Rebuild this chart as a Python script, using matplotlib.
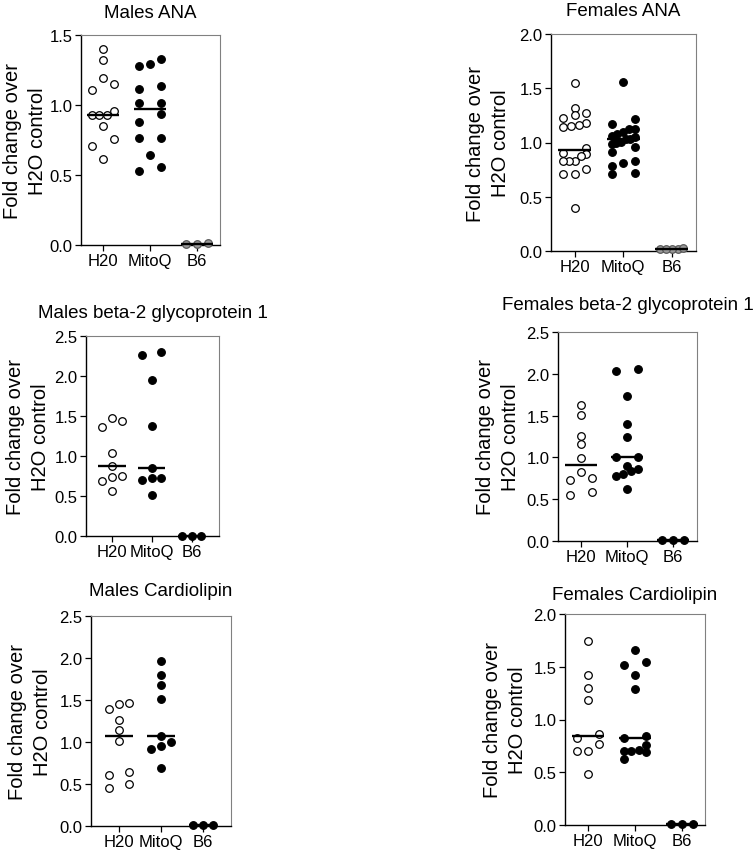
import numpy as np
import matplotlib
matplotlib.use("Agg")
import matplotlib.pyplot as plt

plt.rcParams['font.family'] = ['Liberation Sans', 'DejaVu Sans']

groups = ["H20", "MitoQ", "B6"]

# values (fold change over H2O control)
m_ana_h2o = [1.398, 1.319, 1.195, 1.152, 1.105, 0.957, 0.93, 0.93, 0.93, 0.85, 0.755, 0.707, 0.617]
m_ana_mitoq = [1.331, 1.295, 1.279, 1.136, 1.112, 1.012, 1.012, 0.933, 0.881, 0.767, 0.762, 0.643, 0.557, 0.529]
m_ana_b6 = [0.01, 0.012, 0.01]

f_ana_h2o = [1.549, 1.316, 1.273, 1.255, 1.227, 1.181, 1.163, 1.156, 1.141, 0.951,
             0.905, 0.89, 0.88, 0.834, 0.828, 0.828, 0.758, 0.712, 0.706, 0.399]
f_ana_mitoq = [1.56, 1.217, 1.17, 1.124, 1.124, 1.094, 1.078, 1.063, 1.048, 1.032, 1.032,
               1.008, 1.0, 0.986, 0.955, 0.909, 0.833, 0.811, 0.786, 0.719, 0.71]
f_ana_b6 = [0.015, 0.02, 0.03, 0.02, 0.015]

m_b2_h2o = [1.474, 1.441, 1.366, 1.034, 0.88, 0.756, 0.735, 0.685, 0.561]
m_b2_mitoq = [2.305, 2.263, 1.948, 1.379, 0.847, 0.727, 0.727, 0.706, 0.515]
m_b2_b6 = [0.0, 0.0, 0.0]

f_b2_h2o = [1.632, 1.508, 1.26, 1.16, 0.988, 0.828, 0.756, 0.732, 0.588, 0.552]
f_b2_mitoq = [2.057, 2.037, 1.738, 1.403, 1.24, 1.009, 1.009, 0.901, 0.861, 0.841, 0.801, 0.773, 0.622]
f_b2_b6 = [0.01, 0.01, 0.01]

m_cl_h2o = [1.468, 1.456, 1.389, 1.262, 1.139, 1.012, 0.647, 0.603, 0.496, 0.456]
m_cl_mitoq = [1.964, 1.794, 1.679, 1.516, 1.071, 1.0, 0.952, 0.921, 0.694]
m_cl_b6 = [0.01, 0.01, 0.01]

f_cl_h2o = [1.741, 1.424, 1.294, 1.184, 0.861, 0.82, 0.766, 0.703, 0.703, 0.487]
f_cl_mitoq = [1.662, 1.542, 1.517, 1.422, 1.289, 0.847, 0.82, 0.761, 0.714, 0.705, 0.698, 0.689, 0.626]
f_cl_b6 = [0.01, 0.01, 0.01]

W, H = 756, 854

# title, data, ymax, box (l, t, r, b) px, xlim, title y px, ylabel x px, b6 colour
panels = [
    ("Males ANA", [m_ana_h2o, m_ana_mitoq, m_ana_b6], 1.5, (81, 36, 220, 246), (-0.47, 2.49), 13, 25, 'grey'),
    ("Females ANA", [f_ana_h2o, f_ana_mitoq, f_ana_b6], 2.0, (551, 35, 696, 252), (-0.49, 2.5), 12, 488, 'grey'),
    ("Males beta-2 glycoprotein 1", [m_b2_h2o, m_b2_mitoq, m_b2_b6], 2.5, (86, 337, 219, 537), (-0.65, 2.68), 313, 28, 'black'),
    ("Females beta-2 glycoprotein 1", [f_b2_h2o, f_b2_mitoq, f_b2_b6], 2.5, (558, 333, 697, 542), (-0.5, 2.52), 305, 498, 'black'),
    ("Males Cardiolipin", [m_cl_h2o, m_cl_mitoq, m_cl_b6], 2.5, (91, 617, 231, 827), (-0.67, 2.67), 592, 30, 'black'),
    ("Females Cardiolipin", [f_cl_h2o, f_cl_mitoq, f_cl_b6], 2.0, (565, 615, 705, 826), (-0.49, 2.49), 595, 505, 'black'),
]


def swarm_offsets(vals, row_h, step):
    # group values into rows (prism-like) and spread each row symmetrically
    vals = np.asarray(vals, dtype=float)
    order = np.argsort(vals)
    offs = np.zeros(len(vals))
    rows = []
    cur = [order[0]]
    for i in order[1:]:
        if vals[i] - vals[cur[0]] < row_h:
            cur.append(i)
        else:
            rows.append(cur)
            cur = [i]
    rows.append(cur)
    for r in rows:
        if len(r) > 1:
            offs[r] = np.linspace(-step, step, len(r))
    return offs


fig = plt.figure(figsize=(W / 100, H / 100), dpi=100)

for title, data, ymax, box, xlim, ty, lx, b6col in panels:
    l, t, r, b = box
    ax = fig.add_axes([l / W, 1 - b / H, (r - l) / W, (b - t) / H])
    ax.set_xlim(*xlim)
    ax.set_ylim(0, ymax)
    row_h = 7.5 * ymax / (b - t)
    for i, vals in enumerate(data):
        x = i + swarm_offsets(vals, row_h, 0.24)
        if i == 0:
            fc, ec = 'white', 'black'
        elif i == 1:
            fc, ec = 'black', 'black'
        else:
            if b6col == 'grey':
                fc, ec = '#9a9a9a', '#5a5a5a'
            else:
                fc, ec = 'black', 'black'
        ax.scatter(x, vals, s=30, facecolors=fc, edgecolors=ec, linewidths=0.9,
                   clip_on=False, zorder=3)
        ax.hlines(np.median(vals), i - 0.34, i + 0.34, color='black', lw=1.7,
                  zorder=4, clip_on=False)

    ax.set_xticks([0, 1, 2])
    ax.set_xticklabels(groups)
    yt = np.arange(0, ymax + 0.01, 0.5)
    ax.set_yticks(yt)
    ax.set_yticklabels(["%.1f" % v for v in yt])
    ax.tick_params(direction='out', length=4, width=0.9, labelsize=12, pad=2)
    for s in ['left', 'bottom']:
        ax.spines[s].set_color('black')
        ax.spines[s].set_linewidth(1.0)
    for s in ['top', 'right']:
        ax.spines[s].set_color('#808080')
        ax.spines[s].set_linewidth(0.8)

    fig.text((l + r) / 2 / W, 1 - ty / H, title, ha='center', va='center', fontsize=13.5)
    fig.text(lx / W, 1 - (t + b) / 2 / H, "Fold change over\nH2O control", rotation=90,
             ha='center', va='center', multialignment='center', fontsize=14.5,
             linespacing=1.4)

fig.savefig("out.png", dpi=100)
